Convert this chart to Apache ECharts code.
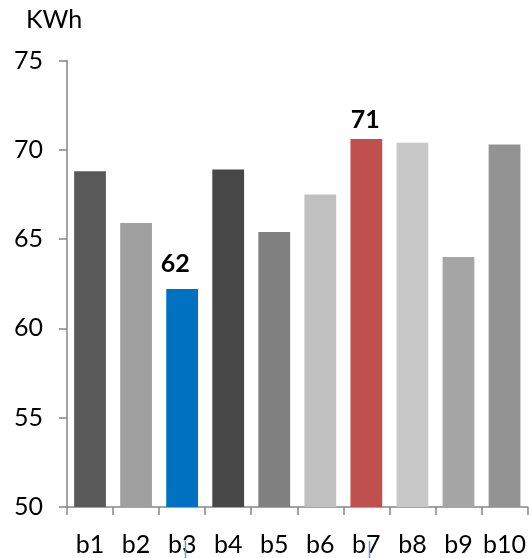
<!DOCTYPE html>
<html>
<head>
<meta charset="utf-8">
<script src="https://cdn.jsdelivr.net/npm/echarts@6/dist/echarts.min.js"></script>
<style>
  html, body { margin: 0; padding: 0; background: #fff; }
  #chart { width: 529px; height: 558px; }
</style>
</head>
<body>
<div id="chart"></div>
<script>
// Energy use per building (KWh)
const categories = ['b1', 'b2', 'b3', 'b4', 'b5', 'b6', 'b7', 'b8', 'b9', 'b10'];
const values = [68.8, 65.9, 62.2, 68.9, 65.4, 67.5, 70.6, 70.4, 64.0, 70.3];
const barColors = ['#595959', '#a0a0a0', '#0070c0', '#474747', '#808080',
                   '#c0c0c0', '#c0504d', '#c8c8c8', '#a5a5a5', '#939393'];
const labelled = ['b3', 'b7'];          // bars that carry a value label
const yTicks = { min: 50, max: 75, step: 5 };
const unitLabel = 'KWh';

const FONT = 'Lato, "Open Sans", sans-serif';
const FONT_SIZE = 25;
const AXIS_GREY = '#868686';
const POINTER_BLUE = '#5b9bd5';

// extra nudges for the value labels of the highlighted bars
const labelNudge = { b3: { offset: [-7, -6] }, b7: { offset: [-1, 0] } };

const seriesData = values.map((v, i) => {
  const name = categories[i];
  const item = { value: v, itemStyle: { color: barColors[i] } };
  if (labelled.includes(name)) {
    item.label = {
      show: true,
      position: 'top',
      distance: 7,
      offset: labelNudge[name].offset,
      formatter: p => String(Math.round(p.value)),
      fontFamily: FONT,
      fontWeight: 'bold',
      fontSize: FONT_SIZE,
      color: '#000'
    };
  }
  return item;
});

const chart = echarts.init(document.getElementById('chart'), null, { renderer: 'canvas' });
chart.setOption({
  animation: false,
  backgroundColor: '#ffffff',
  graphic: [{
    id: 'unit',
    type: 'text',
    left: 26,
    top: 7,
    style: { text: unitLabel, font: FONT_SIZE + 'px ' + FONT, fill: '#000' }
  }],
  grid: { left: 67, right: 1, top: 60.5, bottom: 51, containLabel: false },
  xAxis: {
    type: 'category',
    data: categories,
    axisLine: { show: true, lineStyle: { color: AXIS_GREY, width: 1.5 } },
    axisTick: { show: true, alignWithLabel: false, length: 8, lineStyle: { color: AXIS_GREY, width: 1.5 } },
    axisLabel: { interval: 0, fontFamily: FONT, fontSize: FONT_SIZE, color: '#000', margin: 25 },
    splitLine: { show: false }
  },
  yAxis: {
    type: 'value',
    min: yTicks.min,
    max: yTicks.max,
    interval: yTicks.step,
    axisLine: { show: true, lineStyle: { color: AXIS_GREY, width: 1.5 } },
    axisTick: { show: true, length: 8, lineStyle: { color: AXIS_GREY, width: 1.5 } },
    axisLabel: { fontFamily: FONT, fontSize: FONT_SIZE, color: '#000', margin: 24 },
    splitLine: { show: false }
  },
  series: [{
    type: 'bar',
    data: seriesData,
    barCategoryGap: '31%'
  }]
});

// small blue pointers under the highlighted category labels
const H = chart.getHeight();
const pointers = labelled.map(name => {
  const x = Math.round(chart.convertToPixel({ xAxisIndex: 0 }, name)) + 3.5;
  return {
    id: 'pointer-' + name,
    type: 'line',
    shape: { x1: x, y1: H - 17, x2: x, y2: H },
    style: { stroke: POINTER_BLUE, lineWidth: 1.5 },
    z: 10,
    silent: true
  };
});
chart.setOption({ graphic: pointers });
</script>
</body>
</html>
